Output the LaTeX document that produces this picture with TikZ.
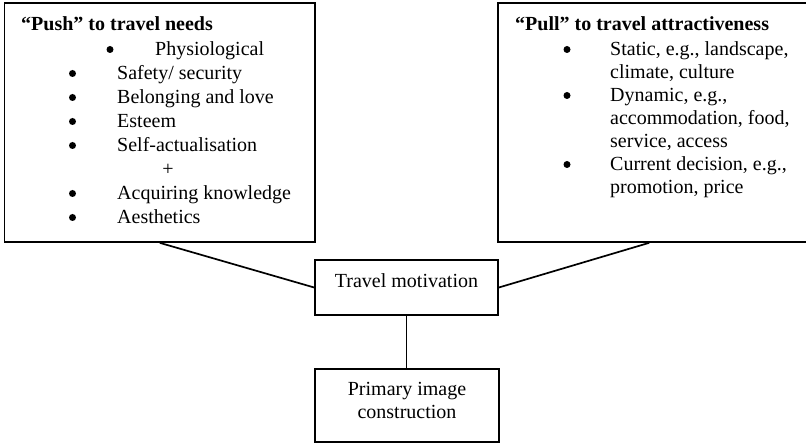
\documentclass[tikz,border=0pt]{standalone}
\usepackage{fontspec}
\setmainfont{Liberation Serif}
\begin{document}
\begin{tikzpicture}[x=1pt,y=-1pt,
  txt/.style={inner sep=0pt,anchor=base west,font=\fontsize{20}{24}\selectfont},
  ttl/.style={txt,font=\fontsize{20}{24}\selectfont\bfseries},
  ctr/.style={inner sep=0pt,anchor=base,font=\fontsize{20}{24}\selectfont},
  bul/.style={circle,fill=black,inner sep=0pt,minimum size=7pt,yshift=6.5pt},
  box/.style={draw,line width=1.7pt,inner sep=0pt},
  conn/.style={line width=1.7pt}]
\useasboundingbox (0,0) rectangle (806,443);
\clip (0,0) rectangle (806,443);
% boxes
\node[box,minimum width=310.5pt,minimum height=239pt] (push) at (159.75,122.5) {};
\node[box,minimum width=320pt,minimum height=239pt] (pull) at (658,122.5) {};
\node[box,minimum width=183pt,minimum height=55pt] (tm) at (406.5,287.5) {};
\node[box,minimum width=184pt,minimum height=73pt] (pic) at (407,405.5) {};
% push text
\node[ttl] (pt) at (21,31) {“Push” to travel needs};
\node[bul] (pb1) at (110,56) {};
\node[txt] (p1) at (155,56) {Physiological};
\node[bul] (pb2) at (72.5,80) {};
\node[txt] (p2) at (117,80) {Safety/ security};
\node[bul] (pb3) at (72.5,104) {};
\node[txt] (p3) at (117,104) {Belonging and love};
\node[bul] (pb4) at (72.5,128) {};
\node[txt] (p4) at (117,128) {Esteem};
\node[bul] (pb5) at (72.5,152) {};
\node[txt] (p5) at (117,152) {Self-actualisation};
\node[ctr] (plus) at (168,176) {+};
\node[bul] (pb6) at (72.5,200) {};
\node[txt] (p6) at (117,200) {Acquiring knowledge};
\node[bul] (pb7) at (72.5,224) {};
\node[txt] (p7) at (117,224) {Aesthetics};
% pull text
\node[ttl] (qt) at (515,31) {“Pull” to travel attractiveness};
\node[bul] (qb1) at (567,56) {};
\node[txt] (q1) at (610,56) {Static, e.g., landscape,};
\node[txt] (q1b) at (610,79) {climate, culture};
\node[bul] (qb2) at (567,102) {};
\node[txt] (q2) at (610,102) {Dynamic, e.g.,};
\node[txt] (q2b) at (610,125) {accommodation, food,};
\node[txt] (q2c) at (610,148) {service, access};
\node[bul] (qb3) at (567,171) {};
\node[txt] (q3) at (610,171) {Current decision, e.g.,};
\node[txt] (q3b) at (610,194) {promotion, price};
% centre texts
\node[ctr] (tmt) at (406.5,288) {Travel motivation};
\node[ctr] (pic1) at (407,396) {Primary image};
\node[ctr] (pic2) at (407,418) {construction};
% connectors
\coordinate (pullfoot) at ([xshift=152pt]pull.south west);
\draw[conn] (push.south) -- (tm.west);
\draw[conn] (pullfoot) -- (tm.east);
\draw[conn] (tm.south) -- (tm.south |- pic.north);
\end{tikzpicture}
\end{document}
